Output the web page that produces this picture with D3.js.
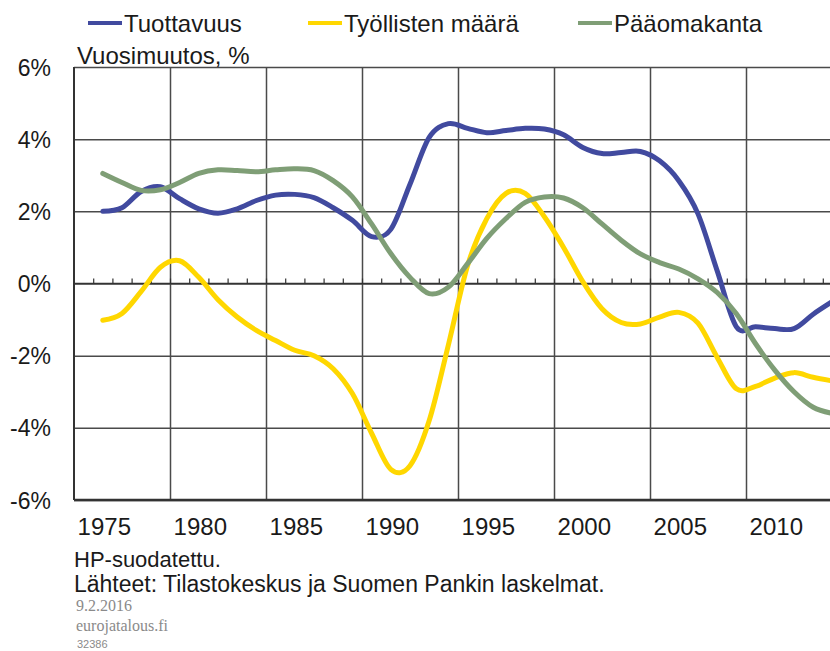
<!DOCTYPE html>
<html>
<head>
<meta charset="utf-8">
<script src="https://cdn.jsdelivr.net/npm/d3@7/dist/d3.min.js"></script>
<style>
  body { margin: 0; background: #fff; }
  text { font-family: Arial, "Liberation Sans", sans-serif; fill: #1a1a1a; }
</style>
</head>
<body>
<svg id="chart" width="830" height="651"></svg>
<script>
// years and HP-filtered annual changes, %
var years = d3.range(1975, 2014);
var tuottavuus = [2.0, 2.1, 2.55, 2.68, 2.35, 2.07, 1.95, 2.07, 2.3, 2.45, 2.47, 2.38, 2.1, 1.75, 1.3, 1.5,
  2.75, 4.05, 4.43, 4.3, 4.18, 4.24, 4.3, 4.28, 4.12, 3.77, 3.6, 3.63, 3.66, 3.4, 2.85, 1.93,
  0.35, -1.2, -1.2, -1.25, -1.25, -0.85, -0.5];
var tyollisten = [-1.02, -0.83, -0.22, 0.45, 0.63, 0.17, -0.45, -0.93, -1.3, -1.58, -1.85, -2.0,
  -2.36, -3.05, -4.15, -5.15, -5.05, -3.8, -1.7, 0.5, 1.8, 2.5, 2.5, 1.85, 1.0, 0.05, -0.7,
  -1.08, -1.12, -0.93, -0.8, -1.1, -2.05, -2.92, -2.85, -2.62, -2.47, -2.6, -2.7];
var paaomakanta = [3.05, 2.8, 2.58, 2.6, 2.8, 3.05, 3.15, 3.13, 3.1, 3.15, 3.18, 3.13, 2.85, 2.4,
  1.65, 0.83, 0.17, -0.28, -0.1, 0.55, 1.25, 1.8, 2.25, 2.4, 2.37, 2.1, 1.65, 1.2, 0.82, 0.58,
  0.4, 0.13, -0.25, -0.84, -1.67, -2.4, -3.0, -3.43, -3.6];
var yTicks = [-6, -4, -2, 0, 2, 4, 6];
var yearLabels = [1975, 1980, 1985, 1990, 1995, 2000, 2005, 2010];

var series = [
  {name: "Tuottavuus", values: tuottavuus, color: "#414a9f"},
  {name: "Työllisten määrä", values: tyollisten, color: "#ffd700"},
  {name: "Pääomakanta", values: paaomakanta, color: "#7f9e76"}
];

var svg = d3.select("#chart");
var plotLeft = 74, plotTop = 67, plotBottom = 500, plotRight = 830;

// category axis: one year per 19.2 px, plot edge half a year before 1974
var x = d3.scaleLinear().domain([1973.5, 2013.5]).range([plotLeft, plotLeft + 40 * 19.2]);
var y = d3.scaleLinear().domain([-6, 6]).range([plotBottom, plotTop]);

var g = svg.append("g");

// horizontal gridlines
g.append("g")
  .attr("transform", "translate(" + plotLeft + ",0)")
  .call(d3.axisRight(y).tickValues(yTicks).tickSize(plotRight - plotLeft).tickFormat(""))
  .call(function(a) { a.select(".domain").remove(); })
  .selectAll("line").attr("stroke", "#4a4a4a").attr("stroke-width", 1.5);

// vertical gridlines every 5 years
var vgrid = d3.range(1978.5, 2014, 5);
g.append("g")
  .attr("transform", "translate(0," + plotBottom + ")")
  .call(d3.axisTop(x).tickValues(vgrid).tickSize(plotBottom - plotTop).tickFormat(""))
  .call(function(a) { a.select(".domain").remove(); })
  .selectAll("line").attr("stroke", "#4a4a4a").attr("stroke-width", 1.5);

// zero line with small year ticks
g.append("g")
  .attr("transform", "translate(0," + y(0) + ")")
  .call(d3.axisBottom(x).tickValues(d3.range(1974.5, 2014, 1)).tickSize(-5).tickSizeOuter(0).tickFormat(""))
  .call(function(a) {
    a.select(".domain").attr("stroke", "#333").attr("stroke-width", 1.5).attr("d", "M" + plotLeft + ",0H" + plotRight);
    a.selectAll("line").attr("stroke", "#333").attr("stroke-width", 1.2);
  });

// frame: left and bottom
g.append("line").attr("x1", plotLeft).attr("x2", plotLeft).attr("y1", plotTop).attr("y2", plotBottom)
  .attr("stroke", "#333").attr("stroke-width", 2);
g.append("line").attr("x1", plotLeft).attr("x2", plotRight).attr("y1", plotBottom).attr("y2", plotBottom)
  .attr("stroke", "#333").attr("stroke-width", 2.5);

// y labels
g.append("g")
  .attr("transform", "translate(" + 51 + ",0)")
  .call(d3.axisLeft(y).tickValues(yTicks).tickSize(0).tickFormat(function(d) { return d + "%"; }))
  .call(function(a) {
    a.select(".domain").remove();
    a.selectAll("text").attr("font-size", 23).attr("font-family", "Arial, 'Liberation Sans'")
      .attr("fill", "#1a1a1a").attr("dy", "0.35em").attr("x", 0);
  });

// x labels
g.append("g")
  .attr("transform", "translate(1," + 518 + ")")
  .call(d3.axisBottom(x).tickValues(yearLabels).tickSize(0).tickFormat(d3.format("d")))
  .call(function(a) {
    a.select(".domain").remove();
    a.selectAll("text").attr("font-size", 24).attr("font-family", "Arial, 'Liberation Sans'")
      .attr("fill", "#1a1a1a").attr("dy", "0.71em").attr("y", 0);
  });

// lines
var line = d3.line()
  .x(function(d, i) { return x(years[i]); })
  .y(function(d) { return y(d); })
  .curve(d3.curveCardinal.tension(0));

series.forEach(function(s) {
  g.append("path")
    .datum(s.values)
    .attr("fill", "none")
    .attr("stroke", s.color)
    .attr("stroke-width", 5)
    .attr("stroke-linejoin", "round")
    .attr("stroke-linecap", "round")
    .attr("d", line);
});

// legend
var legendX = [88, 308, 578];
series.forEach(function(s, i) {
  var lg = svg.append("g").attr("transform", "translate(" + legendX[i] + ",23)");
  lg.append("line").attr("x1", 0).attr("x2", 34).attr("stroke", s.color).attr("stroke-width", 4);
  lg.append("text").attr("x", 36).attr("y", 9).attr("font-size", 24).text(s.name);
});

svg.append("text").attr("x", 77).attr("y", 64).attr("font-size", 24).text("Vuosimuutos, %");

// notes
svg.append("text").attr("x", 74).attr("y", 567).attr("font-size", 22).text("HP-suodatettu.");
svg.append("text").attr("x", 74).attr("y", 592).attr("font-size", 23)
  .text("Lähteet: Tilastokeskus ja Suomen Pankin laskelmat.");
svg.append("text").attr("x", 76).attr("y", 611).attr("font-size", 16)
  .style("font-family", "'Times New Roman', 'Liberation Serif', serif").style("fill", "#8a8a8a").text("9.2.2016");
svg.append("text").attr("x", 76).attr("y", 631).attr("font-size", 16)
  .style("font-family", "'Times New Roman', 'Liberation Serif', serif").style("fill", "#8a8a8a").text("eurojatalous.fi");
svg.append("text").attr("x", 77).attr("y", 648).attr("font-size", 11)
  .style("fill", "#8a8a8a").text("32386");
</script>
</body>
</html>
